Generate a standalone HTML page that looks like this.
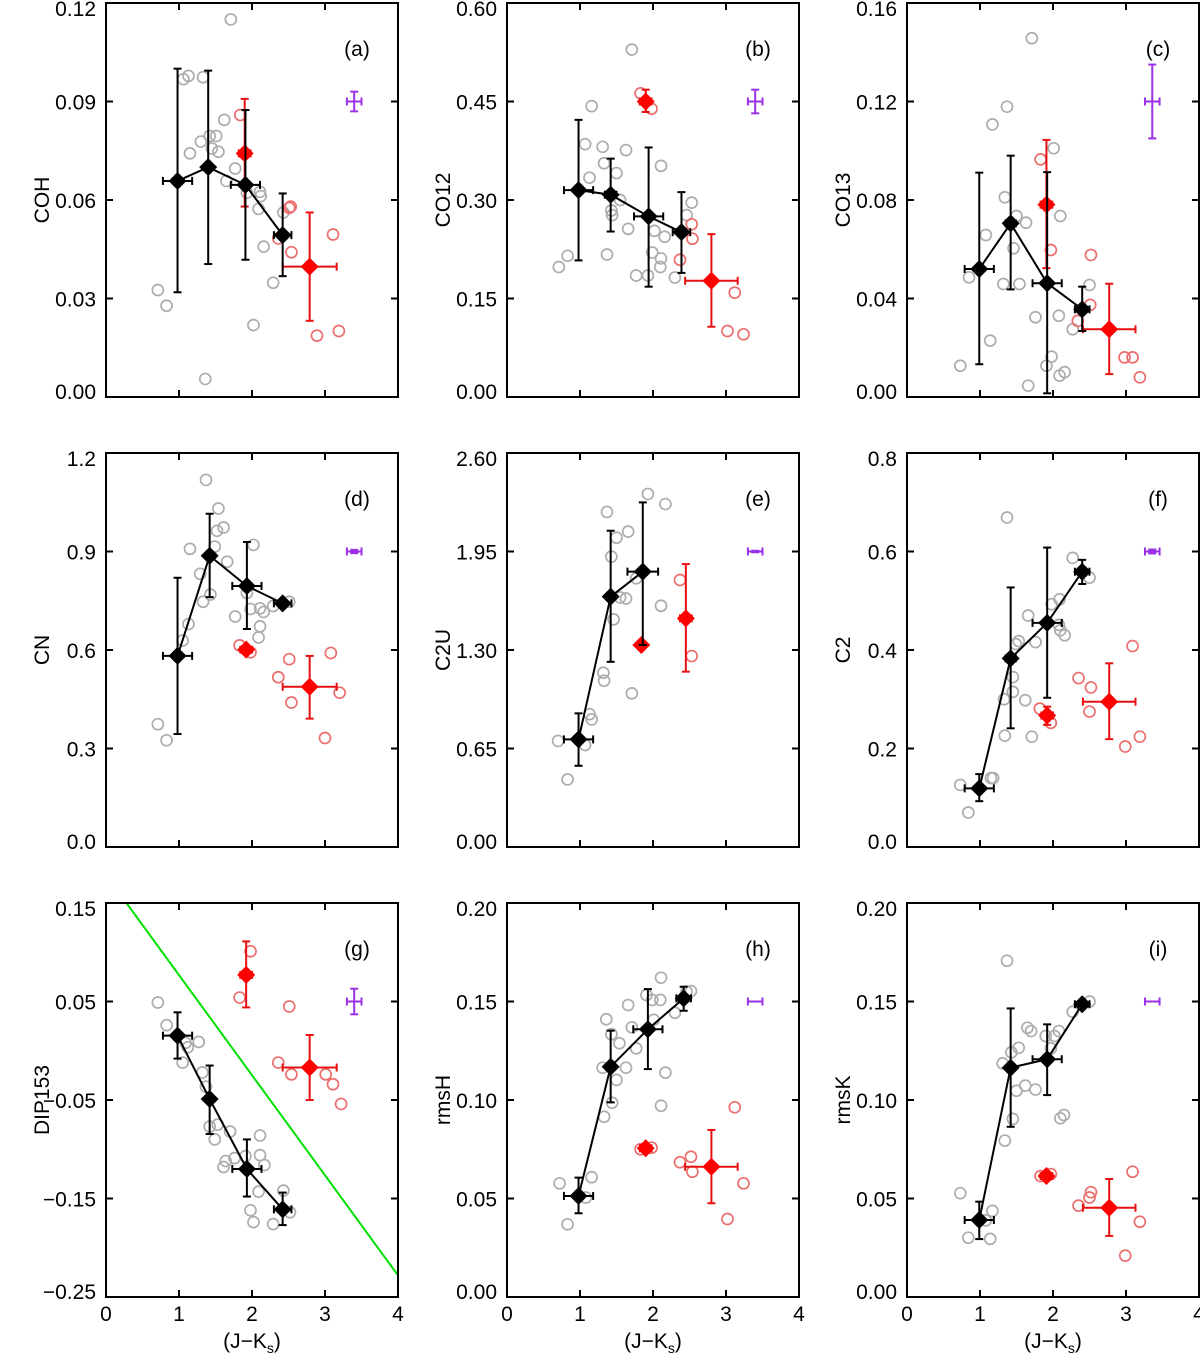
<!DOCTYPE html>
<html><head><meta charset="utf-8"><style>
html,body{margin:0;padding:0;background:#fff;}
svg{display:block;font-family:"Liberation Sans",Arial,sans-serif;}
</style></head><body>
<svg id="fig" width="1200" height="1355" viewBox="0 0 1200 1355" xmlns="http://www.w3.org/2000/svg"></svg>
<script>
// ---------- data ----------
const aGrayX=[1.71,1.06,1.13,1.33,1.62,1.30,1.42,1.51,1.45,1.54,1.15,1.77,1.65,1.93,2.11,2.12,2.09,2.43,2.16,2.29,0.71,0.83,2.02,1.36];
const aGrayY=[0.115,0.0968,0.0978,0.0974,0.0844,0.0778,0.0795,0.0795,0.0757,0.0747,0.0742,0.0696,0.0658,0.0622,0.0625,0.0612,0.0573,0.0562,0.0458,0.0348,0.0326,0.0278,0.0219,0.0055];
const aRedX=[1.84,2.51,2.53,2.36,3.11,2.54,2.89,3.19];
const aRedY=[0.0859,0.0576,0.058,0.0483,0.0495,0.0441,0.0187,0.0201];
const aMeanX=[0.98,1.40,1.91,2.42], aMeanY=[0.0658,0.070,0.0646,0.0493], aMeanLo=[0.0319,0.0405,0.0418,0.0368], aMeanHi=[0.10,0.0994,0.0874,0.062], aMeanXe=[0.2,0.05,0.2,0.12];
const aRmX=[1.90,2.79], aRmY=[0.0742,0.0397], aRmLo=[0.058,0.0232], aRmHi=[0.0908,0.0562], aRmXe=[0.08,0.37];
const aPur=[3.40,0.09,0.003,0.1];

const bGrayX=[1.71,1.16,1.07,1.31,1.63,1.33,2.11,1.50,1.13,1.55,1.43,1.44,2.53,2.46,1.66,2.02,2.16,1.99,2.11,2.10,1.37,0.83,0.71,1.77,1.93,2.30];
const bGrayY=[0.529,0.443,0.385,0.381,0.376,0.356,0.352,0.341,0.334,0.30,0.284,0.277,0.296,0.277,0.256,0.253,0.244,0.22,0.211,0.198,0.217,0.215,0.198,0.185,0.185,0.182];
const bRedX=[1.83,1.98,2.53,2.54,2.37,3.12,3.02,3.24];
const bRedY=[0.4625,0.439,0.263,0.241,0.209,0.159,0.1005,0.0955];
const bMeanX=[0.98,1.42,1.94,2.39], bMeanY=[0.315,0.308,0.275,0.251], bMeanLo=[0.208,0.252,0.168,0.189], bMeanHi=[0.422,0.363,0.38,0.312], bMeanXe=[0.2,0.08,0.2,0.12];
const bRmX=[1.90,2.80], bRmY=[0.45,0.177], bRmLo=[0.434,0.107], bRmHi=[0.468,0.248], bRmXe=[0.08,0.36];
const bPur=[3.40,0.45,0.018,0.1];

const cGrayX=[1.71,1.37,1.17,2.01,1.34,1.50,1.63,2.10,1.08,1.46,0.85,1.32,1.54,2.50,1.76,2.08,2.27,1.14,0.73,1.98,1.91,2.09,2.16,1.66];
const cGrayY=[0.1457,0.1179,0.1107,0.101,0.0811,0.0735,0.0708,0.0735,0.0658,0.0604,0.0486,0.0459,0.0459,0.0455,0.0324,0.033,0.0275,0.0229,0.0127,0.0164,0.0127,0.0087,0.0101,0.0046];
const cRedX=[1.83,1.97,2.52,2.51,2.34,2.98,3.09,3.19];
const cRedY=[0.0965,0.0597,0.0577,0.0374,0.0309,0.0161,0.0161,0.008];
const cMeanX=[0.99,1.42,1.92,2.40], cMeanY=[0.052,0.0705,0.0462,0.0356], cMeanLo=[0.0133,0.0437,0.0015,0.0268], cMeanHi=[0.0911,0.098,0.0913,0.0448], cMeanXe=[0.2,0.07,0.2,0.1];
const cRmX=[1.91,2.77], cRmY=[0.0781,0.0275], cRmLo=[0.0523,0.0093], cRmHi=[0.1044,0.046], cRmXe=[0.08,0.36];
const cPur=[3.36,0.12,0.015,0.1];

const dGrayX=[1.37,1.54,1.61,1.52,1.15,1.49,2.02,1.66,1.29,1.43,1.33,1.93,1.77,1.98,2.11,2.16,2.29,2.51,2.11,2.09,1.13,1.05,0.71,0.83];
const dGrayY=[1.118,1.031,0.973,0.963,0.908,0.915,0.92,0.869,0.832,0.769,0.747,0.774,0.702,0.725,0.727,0.716,0.734,0.747,0.672,0.638,0.679,0.629,0.374,0.325];
const dRedX=[1.83,1.98,2.51,3.08,2.36,2.54,3.20,3.0];
const dRedY=[0.614,0.593,0.572,0.591,0.517,0.44,0.47,0.332];
const dMeanX=[0.98,1.42,1.93,2.42], dMeanY=[0.582,0.887,0.795,0.742], dMeanLo=[0.344,0.761,0.664,0.732], dMeanHi=[0.82,1.015,0.929,0.752], dMeanXe=[0.2,0.05,0.2,0.12];
const dRmX=[1.92,2.79], dRmY=[0.601,0.488], dRmLo=[0.591,0.391], dRmHi=[0.611,0.582], dRmXe=[0.08,0.37];
const dPur=[3.40,0.9,0.005,0.1];

const eGrayX=[1.93,2.17,1.37,1.66,1.50,1.43,1.77,1.55,1.63,2.11,1.46,1.32,1.33,1.71,1.13,1.16,0.70,1.07,0.83];
const eGrayY=[2.33,2.263,2.211,2.081,2.041,1.916,1.773,1.647,1.64,1.592,1.502,1.15,1.097,1.014,0.877,0.842,0.70,0.673,0.446];
const eRedX=[2.37,2.53];
const eRedY=[1.762,1.26];
const eMeanX=[0.98,1.42,1.86], eMeanY=[0.71,1.652,1.817], eMeanLo=[0.536,1.222,1.333], eMeanHi=[0.882,2.087,2.274], eMeanXe=[0.2,0.05,0.21];
const eRmX=[1.84,2.45], eRmY=[1.333,1.509], eRmLo=[1.333,1.157], eRmHi=[1.333,1.867], eRmXe=[0,0.08];
const ePur=[3.40,1.95,0.005,0.1];

const fGrayX=[1.37,2.27,2.50,2.09,1.98,1.66,2.08,2.10,2.16,1.76,1.53,1.49,1.45,1.45,1.33,1.62,1.34,1.71,1.15,1.18,0.73,0.84];
const fGrayY=[0.669,0.587,0.547,0.503,0.493,0.47,0.451,0.44,0.43,0.416,0.418,0.412,0.345,0.315,0.30,0.298,0.226,0.224,0.14,0.14,0.126,0.07];
const fRedX=[1.82,1.97,3.09,2.35,2.52,2.50,3.19,2.99];
const fRedY=[0.281,0.252,0.408,0.343,0.324,0.275,0.224,0.204];
const fMeanX=[0.99,1.42,1.92,2.40], fMeanY=[0.119,0.383,0.455,0.559], fMeanLo=[0.093,0.241,0.303,0.534], fMeanHi=[0.148,0.527,0.608,0.583], fMeanXe=[0.2,0.07,0.2,0.1];
const fRmX=[1.92,2.77], fRmY=[0.267,0.295], fRmLo=[0.248,0.219], fRmHi=[0.285,0.373], fRmXe=[0.08,0.36];
const fPur=[3.36,0.6,0.004,0.1];

const gGrayX=[0.71,0.83,1.09,1.12,1.27,1.05,1.32,1.37,1.42,1.53,1.70,1.49,2.11,1.64,1.76,1.91,2.11,1.61,2.17,2.09,2.43,1.98,2.02,2.29,2.52];
const gGrayY=[0.049,0.026,0.008,0.0035,0.009,-0.012,-0.022,-0.0365,-0.077,-0.075,-0.082,-0.09,-0.086,-0.112,-0.109,-0.107,-0.106,-0.118,-0.116,-0.143,-0.142,-0.162,-0.174,-0.176,-0.164];
const gRedX=[1.98,1.83,2.51,2.36,2.54,3.01,3.11,3.22];
const gRedY=[0.101,0.054,0.045,-0.012,-0.024,-0.024,-0.034,-0.054];
const gMeanX=[0.98,1.42,1.93,2.42], gMeanY=[0.0153,-0.049,-0.12,-0.161], gMeanLo=[-0.008,-0.0845,-0.148,-0.177], gMeanHi=[0.039,-0.015,-0.09,-0.144], gMeanXe=[0.2,0.05,0.2,0.12];
const gRmX=[1.92,2.79], gRmY=[0.077,-0.017], gRmLo=[0.044,-0.05], gRmHi=[0.111,0.016], gRmXe=[0.08,0.37];
const gPur=[3.40,0.05,0.013,0.1];
const gLineX=[0.28,4.0], gLineY=[0.15,-0.228];

const hGrayX=[2.11,2.52,2.46,1.91,1.99,2.10,1.66,2.30,1.36,2.01,1.71,1.43,1.54,1.77,1.31,1.63,1.50,2.17,1.44,2.11,1.33,1.16,0.72,1.08,0.83];
const hGrayY=[0.1621,0.1553,0.155,0.1533,0.1508,0.1508,0.1482,0.1443,0.141,0.1407,0.1369,0.1334,0.1288,0.1262,0.1164,0.1164,0.1102,0.1139,0.0986,0.0971,0.0915,0.0608,0.0577,0.0505,0.0369];
const hRedX=[1.83,1.98,3.12,2.52,2.37,2.54,3.24,3.02];
const hRedY=[0.075,0.0758,0.0963,0.0712,0.0684,0.0636,0.0577,0.0396];
const hMeanX=[0.98,1.42,1.93,2.42], hMeanY=[0.0513,0.1169,0.1359,0.1516], hMeanLo=[0.0425,0.0988,0.1157,0.1453], hMeanHi=[0.0606,0.1352,0.1563,0.1575], hMeanXe=[0.2,0.05,0.2,0.1];
const hRmX=[1.90,2.80], hRmY=[0.0755,0.0661], hRmLo=[0.0745,0.0476], hRmHi=[0.0765,0.0848], hRmXe=[0.08,0.36];
const hPur=[3.40,0.15,0,0.1];

const iGrayX=[1.37,2.50,2.27,1.65,1.70,2.08,1.90,2.02,1.97,1.53,1.43,1.31,1.50,1.62,1.76,2.10,2.15,1.45,1.34,0.73,1.17,1.08,0.84,1.14];
const iGrayY=[0.1707,0.15,0.1448,0.1367,0.135,0.135,0.1325,0.1325,0.1262,0.1265,0.1242,0.1186,0.1047,0.1073,0.1053,0.0907,0.0924,0.0904,0.0794,0.0527,0.0437,0.0389,0.0301,0.0295];
const iRedX=[1.83,1.97,3.09,2.52,2.50,2.35,3.19,2.99];
const iRedY=[0.0614,0.0624,0.0636,0.0532,0.0505,0.0464,0.0382,0.021];
const iMeanX=[0.99,1.42,1.92,2.40], iMeanY=[0.0391,0.1164,0.1207,0.1486], iMeanLo=[0.0294,0.0864,0.1025,0.1466], iMeanHi=[0.0484,0.1465,0.1384,0.1506], iMeanXe=[0.2,0.05,0.2,0.1];
const iRmX=[1.91,2.77], iRmY=[0.0614,0.0453], iRmLo=[0.0604,0.031], iRmHi=[0.0624,0.0599], iRmXe=[0.08,0.36];
const iPur=[3.36,0.15,0,0.1];

const xTicks=[0,1,2,3,4];
const aTicks=[0,0.03,0.06,0.09,0.12];
const bTicks=[0,0.15,0.30,0.45,0.60];
const cTicks=[0,0.04,0.08,0.12,0.16];
const dTicks=[0,0.3,0.6,0.9,1.2];
const eTicks=[0,0.65,1.30,1.95,2.60];
const fTicks=[0,0.2,0.4,0.6,0.8];
const gTicks=[-0.25,-0.15,-0.05,0.05,0.15];
const hTicks=[0,0.05,0.10,0.15,0.20];
const iTicks=[0,0.05,0.10,0.15,0.20];

const panels=[
 {id:'a',col:0,row:0,ticks:aTicks,dec:2,title:'COH',gx:aGrayX,gy:aGrayY,rx:aRedX,ry:aRedY,mx:aMeanX,my:aMeanY,mlo:aMeanLo,mhi:aMeanHi,mxe:aMeanXe,qx:aRmX,qy:aRmY,qlo:aRmLo,qhi:aRmHi,qxe:aRmXe,pur:aPur},
 {id:'b',col:1,row:0,ticks:bTicks,dec:2,title:'CO12',gx:bGrayX,gy:bGrayY,rx:bRedX,ry:bRedY,mx:bMeanX,my:bMeanY,mlo:bMeanLo,mhi:bMeanHi,mxe:bMeanXe,qx:bRmX,qy:bRmY,qlo:bRmLo,qhi:bRmHi,qxe:bRmXe,pur:bPur},
 {id:'c',col:2,row:0,ticks:cTicks,dec:2,title:'CO13',gx:cGrayX,gy:cGrayY,rx:cRedX,ry:cRedY,mx:cMeanX,my:cMeanY,mlo:cMeanLo,mhi:cMeanHi,mxe:cMeanXe,qx:cRmX,qy:cRmY,qlo:cRmLo,qhi:cRmHi,qxe:cRmXe,pur:cPur},
 {id:'d',col:0,row:1,ticks:dTicks,dec:1,title:'CN',gx:dGrayX,gy:dGrayY,rx:dRedX,ry:dRedY,mx:dMeanX,my:dMeanY,mlo:dMeanLo,mhi:dMeanHi,mxe:dMeanXe,qx:dRmX,qy:dRmY,qlo:dRmLo,qhi:dRmHi,qxe:dRmXe,pur:dPur},
 {id:'e',col:1,row:1,ticks:eTicks,dec:2,title:'C2U',gx:eGrayX,gy:eGrayY,rx:eRedX,ry:eRedY,mx:eMeanX,my:eMeanY,mlo:eMeanLo,mhi:eMeanHi,mxe:eMeanXe,qx:eRmX,qy:eRmY,qlo:eRmLo,qhi:eRmHi,qxe:eRmXe,pur:ePur},
 {id:'f',col:2,row:1,ticks:fTicks,dec:1,title:'C2',gx:fGrayX,gy:fGrayY,rx:fRedX,ry:fRedY,mx:fMeanX,my:fMeanY,mlo:fMeanLo,mhi:fMeanHi,mxe:fMeanXe,qx:fRmX,qy:fRmY,qlo:fRmLo,qhi:fRmHi,qxe:fRmXe,pur:fPur},
 {id:'g',col:0,row:2,ticks:gTicks,dec:2,title:'DIP153',gx:gGrayX,gy:gGrayY,rx:gRedX,ry:gRedY,mx:gMeanX,my:gMeanY,mlo:gMeanLo,mhi:gMeanHi,mxe:gMeanXe,qx:gRmX,qy:gRmY,qlo:gRmLo,qhi:gRmHi,qxe:gRmXe,pur:gPur,lx:gLineX,ly:gLineY},
 {id:'h',col:1,row:2,ticks:hTicks,dec:2,title:'rmsH',gx:hGrayX,gy:hGrayY,rx:hRedX,ry:hRedY,mx:hMeanX,my:hMeanY,mlo:hMeanLo,mhi:hMeanHi,mxe:hMeanXe,qx:hRmX,qy:hRmY,qlo:hRmLo,qhi:hRmHi,qxe:hRmXe,pur:hPur},
 {id:'i',col:2,row:2,ticks:iTicks,dec:2,title:'rmsK',gx:iGrayX,gy:iGrayY,rx:iRedX,ry:iRedY,mx:iMeanX,my:iMeanY,mlo:iMeanLo,mhi:iMeanHi,mxe:iMeanXe,qx:iRmX,qy:iRmY,qlo:iRmLo,qhi:iRmHi,qxe:iRmXe,pur:iPur}
];

// ---------- drawing ----------
const NS='http://www.w3.org/2000/svg';
const svg=document.getElementById('fig');
const colL=[106,507,907], rowT=[3,453,903], W=292, H=394;
const FS=21;
function mk(tag,attrs,parent){const e=document.createElementNS(NS,tag);for(const k in attrs)e.setAttribute(k,attrs[k]);(parent||svg).appendChild(e);return e;}
function fmt(v,d){const s=Math.abs(v).toFixed(d);return (v<0?'\u2212':'')+s;}

panels.forEach(p=>{
  const L=colL[p.col], T=rowT[p.row];
  const ymin=p.ticks[0], ymax=p.ticks[p.ticks.length-1];
  const X=v=>L+v/4*W;
  const Y=v=>T+H-(v-ymin)/(ymax-ymin)*H;
  const g=mk('g',{});
  
  
  const clipId='clip'+p.id;
  const cp=mk('clipPath',{id:clipId},g);mk('rect',{x:L,y:T,width:W,height:H},cp);

  if(p.lx){
    const ln=mk('line',{x1:X(p.lx[0]),y1:Y(p.ly[0]),x2:X(p.lx[1]),y2:Y(p.ly[1]),stroke:'#00e000','stroke-width':2,'clip-path':'url(#'+clipId+')'},g);
    
    
  }
  p.gx.forEach((x,i)=>{
    const c=mk('circle',{cx:X(x),cy:Y(p.gy[i]),r:5.5,fill:'none',stroke:'#adadad','stroke-width':1.7},g);
    
    
  });
  p.rx.forEach((x,i)=>{
    const c=mk('circle',{cx:X(x),cy:Y(p.ry[i]),r:5.5,fill:'none',stroke:'#ec6f6f','stroke-width':1.7},g);
    
    
  });
  function errbar(x,y,lo,hi,xe,col,name){
    const eg=mk('g',{stroke:col,'stroke-width':2},g);
    
    
    if(hi!==lo){
      mk('line',{x1:X(x),y1:Y(lo),x2:X(x),y2:Y(hi)},eg);
      mk('line',{x1:X(x)-4,y1:Y(lo),x2:X(x)+4,y2:Y(lo)},eg);
      mk('line',{x1:X(x)-4,y1:Y(hi),x2:X(x)+4,y2:Y(hi)},eg);
    }
    if(xe>0){
      mk('line',{x1:X(x-xe),y1:Y(y),x2:X(x+xe),y2:Y(y)},eg);
      mk('line',{x1:X(x-xe),y1:Y(y)-4,x2:X(x-xe),y2:Y(y)+4},eg);
      mk('line',{x1:X(x+xe),y1:Y(y)-4,x2:X(x+xe),y2:Y(y)+4},eg);
    }
  }
  function diamond(x,y,col,name){
    const cx=X(x),cy=Y(y),s=9;
    const d=mk('polygon',{points:`${cx},${cy-s} ${cx+s},${cy} ${cx},${cy+s} ${cx-s},${cy}`,fill:col},g);
    
    
  }
  errbar(p.pur[0],p.pur[1],p.pur[1]-p.pur[2],p.pur[1]+p.pur[2],p.pur[3],'#9b30e8','typical-error-bar');
  p.qx.forEach((x,i)=>errbar(x,p.qy[i],p.qlo[i],p.qhi[i],p.qxe[i],'#e81010','red-mean-errorbar'));
  p.qx.forEach((x,i)=>diamond(x,p.qy[i],'#ff0000','red-mean-diamond'));
  const pl=mk('polyline',{points:p.mx.map((x,i)=>X(x)+','+Y(p.my[i])).join(' '),fill:'none',stroke:'#000','stroke-width':2},g);
  
  
  p.mx.forEach((x,i)=>errbar(x,p.my[i],p.mlo[i],p.mhi[i],p.mxe[i],'#000','black-mean-errorbar'));
  p.mx.forEach((x,i)=>diamond(x,p.my[i],'#000','black-mean-diamond'));

  const fr=mk('rect',{x:L,y:T,width:W,height:H,fill:'none',stroke:'#000','stroke-width':2},g);
  
  
  xTicks.forEach(t=>{
    mk('line',{x1:X(t),y1:T+H,x2:X(t),y2:T+H-7,stroke:'#000','stroke-width':2},g);
    mk('line',{x1:X(t),y1:T,x2:X(t),y2:T+7,stroke:'#000','stroke-width':2},g);
    if(p.row===2){
      const tx=mk('text',{x:X(t),y:T+H+24,'font-size':FS,'text-anchor':'middle',fill:'#000'},g);
      tx.textContent=String(t);
      
      
    }
  });
  p.ticks.forEach((t,k)=>{
    mk('line',{x1:L,y1:Y(t),x2:L+7,y2:Y(t),stroke:'#000','stroke-width':2},g);
    mk('line',{x1:L+W,y1:Y(t),x2:L+W-7,y2:Y(t),stroke:'#000','stroke-width':2},g);
    let cy=Y(t);
    if(k===0) cy=T+H-6;
    if(k===p.ticks.length-1) cy=T+5;
    const ty=mk('text',{x:L-10,y:cy+8,'font-size':FS,'text-anchor':'end',fill:'#000'},g);
    ty.textContent=fmt(t,p.dec);
    
    
  });
  const yt=mk('text',{x:0,y:0,'font-size':FS,'text-anchor':'middle',fill:'#000',transform:`translate(${L-57},${T+H/2}) rotate(-90)`},g);
  yt.textContent=p.title;
  
  
  const pl2=mk('text',{x:L+251,y:T+53,'font-size':FS,'text-anchor':'middle',fill:'#000'},g);
  pl2.textContent='('+p.id+')';
  
  
  if(p.row===2){
    const xt=mk('text',{x:X(2),y:1348,'font-size':FS,'text-anchor':'middle',fill:'#000'},g);
    
    
    const t1=mk('tspan',{},xt);t1.textContent='(J\u2212K';
    const t2=mk('tspan',{'font-size':14,dy:5},xt);t2.textContent='s';
    const t3=mk('tspan',{dy:-5},xt);t3.textContent=')';
  }
});
</script>
</body></html>
